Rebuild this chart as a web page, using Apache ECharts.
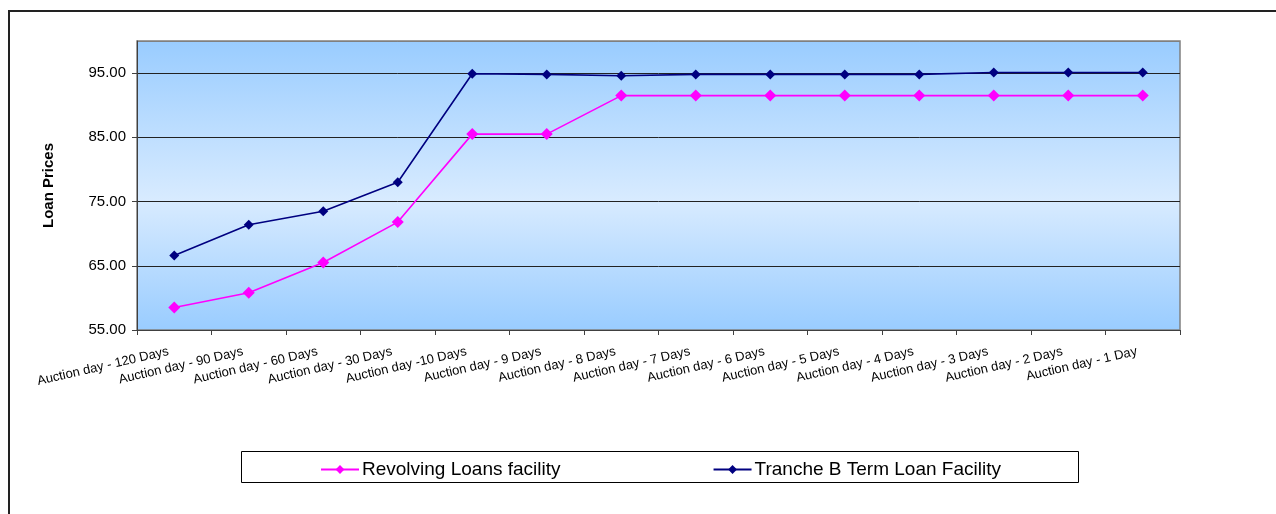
<!DOCTYPE html>
<html>
<head>
<meta charset="utf-8">
<style>
html,body{margin:0;padding:0;background:#fff;}
#chart{width:1276px;height:514px;}
</style>
<script src="https://cdn.jsdelivr.net/npm/echarts@6/dist/echarts.min.js"></script>
</head>
<body>
<div id="chart"></div>
<script>
const categories = ['Auction day - 120 Days','Auction day - 90 Days','Auction day - 60 Days','Auction day - 30 Days','Auction day -10 Days','Auction day - 9 Days','Auction day - 8 Days','Auction day - 7 Days','Auction day - 6 Days','Auction day - 5 Days','Auction day - 4 Days','Auction day - 3 Days','Auction day - 2 Days','Auction day - 1 Day'];
const revolving = [58.5, 60.8, 65.5, 71.8, 85.5, 85.5, 91.5, 91.5, 91.5, 91.5, 91.5, 91.5, 91.5, 91.5];
const trancheB = [66.6, 71.4, 73.5, 78.0, 94.9, 94.8, 94.6, 94.8, 94.8, 94.8, 94.8, 95.1, 95.1, 95.1];
const seriesNames = ['Revolving Loans facility', 'Tranche B Term Loan Facility'];
const yAxisTitle = 'Loan Prices';

const chart = echarts.init(document.getElementById('chart'));
const font = 'Arial, "Liberation Sans", sans-serif';
chart.setOption({
  animation: false,
  textStyle: {fontFamily: font},
  grid: {
    left: 137, top: 41, right: 96, bottom: 184,
    show: true,
    backgroundColor: new echarts.graphic.LinearGradient(0, 0, 0, 1, [
      {offset: 0, color: '#99CCFF'},
      {offset: 0.55, color: '#D8EBFF'},
      {offset: 1, color: '#99CCFF'}
    ]),
    borderColor: '#808080',
    borderWidth: 1.5
  },
  graphic: [
    {type: 'rect', shape: {x: 9, y: 11, width: 1400, height: 700}, style: {fill: 'none', stroke: '#222', lineWidth: 2}, silent: true},
    {type: 'rect', shape: {x: 241.5, y: 451.5, width: 837, height: 31}, style: {fill: '#fff', stroke: '#000', lineWidth: 1}, silent: true, z: 0}
  ],
  legend: {
    data: seriesNames,
    left: 315, top: 455,
    itemWidth: 38, itemHeight: 11,
    itemGap: 152,
    textStyle: {fontSize: 19, color: '#000', fontFamily: font, padding: [0, 0, 0, -2]},
    z: 10
  },
  xAxis: {
    type: 'category',
    data: categories,
    boundaryGap: true,
    axisLine: {lineStyle: {color: '#404040', width: 1}},
    axisTick: {show: true, length: 5, lineStyle: {color: '#404040'}},
    axisLabel: {interval: 0, rotate: 13, fontSize: 13, color: '#000', margin: 20, padding: [0, 6, 0, 0], fontFamily: font}
  },
  yAxis: {
    type: 'value',
    min: 55, max: 100, interval: 10,
    name: yAxisTitle,
    nameLocation: 'middle',
    nameRotate: 90,
    nameGap: 81,
    nameTextStyle: {fontSize: 15, fontWeight: 'bold', color: '#000', fontFamily: font},
    axisLine: {show: true, lineStyle: {color: '#404040', width: 1}},
    axisTick: {show: true, length: 5, lineStyle: {color: '#404040'}},
    axisLabel: {showMaxLabel: false, fontSize: 15, color: '#000', margin: 11, fontFamily: font,
      formatter: v => v.toFixed(2)},
    splitLine: {show: true, lineStyle: {color: ['#404040', '#222', '#222', '#222', '#222', '#808080'], width: 1}}
  },
  series: [
    {
      name: seriesNames[0], type: 'line', data: revolving,
      symbol: 'diamond', symbolSize: 12,
      lineStyle: {color: '#FF00FF', width: 1.6},
      itemStyle: {color: '#FF00FF'},
      z: 3
    },
    {
      name: seriesNames[1], type: 'line', data: trancheB,
      symbol: 'diamond', symbolSize: 10,
      lineStyle: {color: '#000080', width: 1.6},
      itemStyle: {color: '#000080'},
      z: 4
    }
  ]
});
</script>
</body>
</html>
